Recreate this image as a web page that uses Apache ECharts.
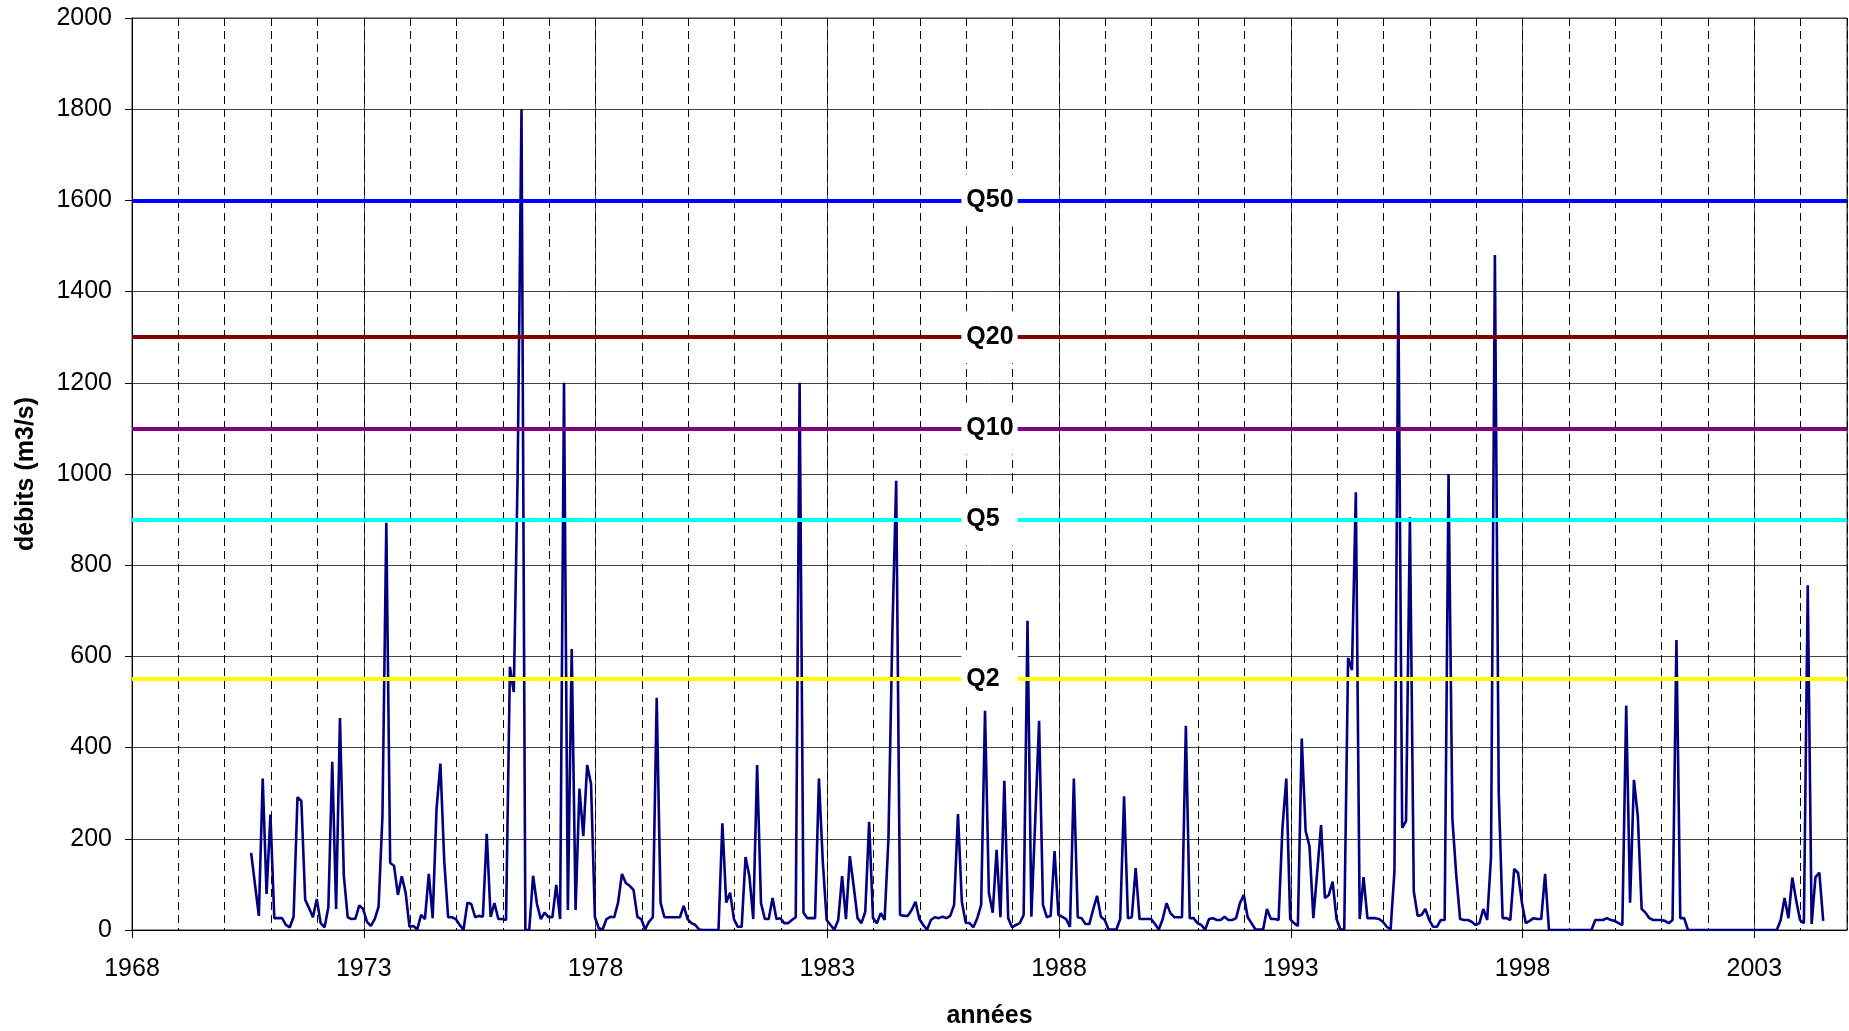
<!DOCTYPE html>
<html>
<head>
<meta charset="utf-8">
<script src="https://cdn.jsdelivr.net/npm/echarts@6/dist/echarts.min.js"></script>
<style>
html,body{margin:0;padding:0;background:#fff;}
#chart{width:1849px;height:1031px;}
</style>
</head>
<body>
<div id="chart"></div>
<script>
// ---- data (monthly discharge, m3/s) ----
const startYear = 1970.57;      // first monthly value
const stepYears = 1 / 12;       // one month
const debits = [
  169,100,31,332,79,253,26,26,26,11,6,29,
  291,283,66,48,28,68,15,6,50,369,46,465,
  119,28,24,25,54,46,18,9,24,51,250,893,
  147,141,77,118,82,7,9,1,33,24,123,26,
  265,365,151,28,28,24,11,1,60,57,28,31,
  29,211,29,59,24,24,22,577,522,1000,1800,0,
  0,119,57,24,38,28,28,99,24,1200,44,616,
  44,310,206,362,320,28,4,1,24,29,28,60,
  123,103,97,88,29,24,1,18,28,509,60,28,
  28,28,28,28,53,24,15,11,1,0,0,0,
  0,0,234,60,82,24,7,7,160,118,24,362,
  59,24,24,70,24,26,15,15,22,28,1200,38,
  26,26,26,332,150,22,11,1,22,118,24,162,
  96,26,15,40,237,26,15,37,22,200,650,985,
  33,31,31,44,62,24,11,1,22,28,26,29,
  26,31,55,254,62,16,15,6,26,55,481,81,
  38,176,28,327,26,6,11,15,33,678,29,240,
  459,55,28,31,173,33,29,24,7,332,28,26,
  13,13,45,75,29,22,1,1,1,24,293,26,
  28,136,24,24,24,24,13,1,24,59,37,28,
  28,28,448,26,26,15,11,1,24,26,22,22,
  29,22,22,26,59,77,28,15,1,1,1,46,
  24,24,22,224,332,24,15,9,420,217,184,26,
  127,230,70,77,106,24,1,1,597,570,960,24,
  116,26,26,26,24,18,7,1,129,1400,224,239,
  905,85,31,33,46,22,7,7,22,22,1000,243,
  120,24,22,22,18,11,15,46,22,160,1480,300,
  26,26,22,134,125,60,15,20,26,24,24,123,
  0,0,0,0,0,0,0,0,0,0,0,0,
  22,22,22,26,22,20,15,11,492,60,329,250,
  46,38,26,22,22,22,20,15,22,636,26,26,
  0,0,0,0,0,0,0,0,0,0,0,0,
  0,0,0,0,0,0,0,0,0,0,0,0,
  22,70,26,115,65,22,15,756,13,116,126,20
];
const qNames  = ['Q50', 'Q20', 'Q10', 'Q5', 'Q2'];
const qValues = [1600, 1300, 1100, 900, 550];
const qColors = ['#0000FF', '#800000', '#800080', '#00FFFF', '#FFFF00'];

const xMin = 1968, xMax = 2005, xMajor = 5, xMinor = 1;
const yMin = 0, yMax = 2000, yStep = 200;
const xTitle = 'années';
const yTitle = 'débits (m3/s)';

// ---- chart ----
const FONT = "'Liberation Sans', Arial, sans-serif";
const LABEL_FONT_SIZE = 25;
const seriesData = debits.map((v, i) => [startYear + i * stepYears, v]);

// measure label widths so every label box starts at the same left edge
const ctx = document.createElement('canvas').getContext('2d');
ctx.font = 'bold ' + LABEL_FONT_SIZE + 'px ' + FONT;
const widths = qNames.map(n => ctx.measureText(n).width);
const maxW = Math.max.apply(null, widths);
const padL = 5, padRmin = 4;

const chart = echarts.init(document.getElementById('chart'), null, {renderer: 'canvas'});
chart.setOption({
  animation: false,
  backgroundColor: '#ffffff',
  textStyle: {fontFamily: FONT},
  grid: {left: 132, right: 2, top: 18, bottom: 101, containLabel: false, outerBoundsMode: 'none',
         show: true, borderColor: '#333', borderWidth: 1, backgroundColor: 'transparent'},
  xAxis: [
    {
      type: 'value', min: xMin, max: xMax, interval: xMajor,
      name: xTitle, nameLocation: 'middle', nameGap: 74,
      nameTextStyle: {fontFamily: FONT, fontSize: 25, fontWeight: 'bold', color: '#000'},
      axisLine: {show: true, onZero: false, lineStyle: {color: '#000', width: 1}},
      axisTick: {show: true, length: 8, lineStyle: {color: '#000'}},
      axisLabel: {show: true, showMaxLabel: false, margin: 27, fontFamily: FONT, fontSize: 25, color: '#000', formatter: v => String(v)},
      splitLine: {show: true, lineStyle: {color: '#444', width: 1, type: 'solid'}}
    },
    {
      type: 'value', min: xMin, max: xMax, interval: xMinor, position: 'bottom',
      axisLine: {show: false}, axisTick: {show: false}, axisLabel: {show: false},
      splitLine: {show: true, lineStyle: {color: '#000', width: 1, type: [8, 5]}}
    }
  ],
  yAxis: {
    type: 'value', min: yMin, max: yMax, interval: yStep,
    name: yTitle, nameLocation: 'middle', nameGap: 93,
    nameTextStyle: {fontFamily: FONT, fontSize: 25, fontWeight: 'bold', color: '#000'},
    axisLine: {show: true, lineStyle: {color: '#000', width: 1}},
    axisTick: {show: true, length: 7, lineStyle: {color: '#000'}},
    axisLabel: {margin: 20, fontFamily: FONT, fontSize: 25, color: '#000', formatter: v => String(v)},
    splitLine: {show: true, lineStyle: {color: '#444', width: 1}}
  },
  series: [
    {
      name: 'quantiles', type: 'line', data: [], z: 2, silent: true,
      markLine: {
        silent: true, symbol: ['none', 'none'], animation: false,
        data: qValues.map((q, k) => ({
          yAxis: q, name: qNames[k],
          lineStyle: {color: qColors[k], width: 4, type: 'solid'},
          label: {
            show: true, position: 'middle', formatter: qNames[k],
            fontFamily: FONT, fontSize: LABEL_FONT_SIZE, fontWeight: 'bold', color: '#000',
            backgroundColor: '#ffffff',
            padding: [13, padRmin + (maxW - widths[k]), 13, padL],
            lineHeight: 26, verticalAlign: 'middle', distance: 0
          }
        }))
      }
    },
    {
      name: 'débits', type: 'line', data: seriesData, z: 3,
      showSymbol: false, symbol: 'none',
      lineStyle: {color: '#000080', width: 2.6},
      xAxisIndex: 0, yAxisIndex: 0
    }
  ]
});
</script>
</body>
</html>
